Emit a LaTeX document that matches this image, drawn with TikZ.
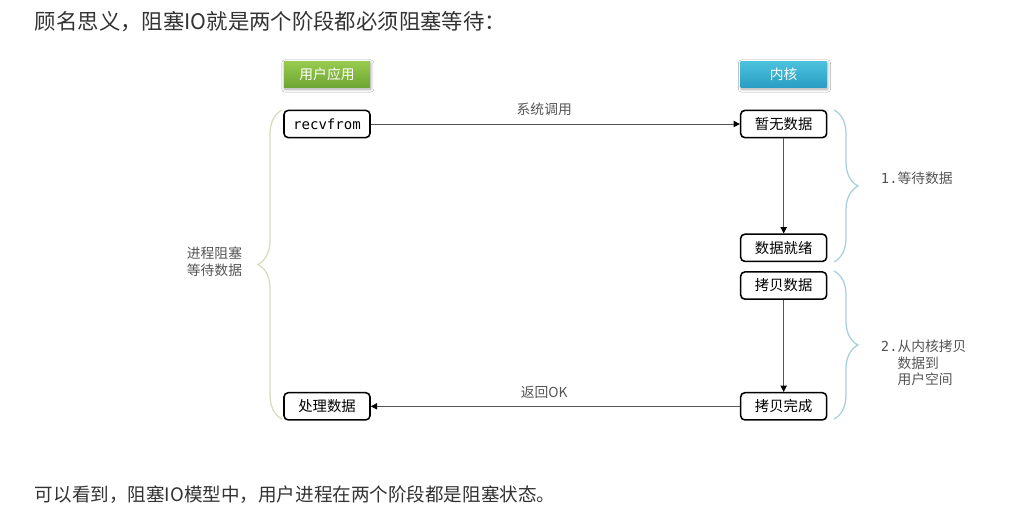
\documentclass[tikz,border=0pt]{standalone}
\usepackage{fontspec}
\setmainfont{Noto Sans CJK SC}
\newfontfamily\monofont{DejaVu Sans Mono}
\usetikzlibrary{arrows.meta, positioning, decorations.pathreplacing, shadows.blur}

\definecolor{textgray}{HTML}{333333}
\definecolor{labelgray}{HTML}{555555}
\definecolor{usergreenA}{HTML}{98CB4E}
\definecolor{usergreenB}{HTML}{6EA532}
\definecolor{kernelblueA}{HTML}{4CC2DE}
\definecolor{kernelblueB}{HTML}{2A9DC2}
\definecolor{braceblue}{HTML}{A6D0DB}
\definecolor{braceolive}{HTML}{D8DCBC}

\begin{document}
\begin{tikzpicture}[
        x=0.025cm, y=-0.025cm,
        node distance=9.225cm,
        block/.style={rectangle, draw=black, line width=1.1pt, fill=white, rounded corners=3pt, minimum width=2.15cm, minimum height=0.68cm, inner sep=0pt, font=\fontsize{10.2}{12}\selectfont},
        head/.style={rectangle, minimum width=2.15cm, minimum height=0.65cm, inner sep=0pt, text=white, font=\fontsize{9.8}{12}\selectfont, blur shadow={shadow xshift=0.6pt, shadow yshift=-1.2pt, shadow blur steps=6, shadow opacity=35}},
        line/.style={draw=labelgray, line width=0.7pt, -{Triangle[length=4.5pt, width=4.5pt, color=black]}},
        lbl/.style={font=\fontsize{9.8}{11.8}\selectfont, text=labelgray},
        curly/.style={decorate, decoration={brace, amplitude=0.6cm, aspect=0.5}, line width=0.9pt}
    ]
        \useasboundingbox[fill=white] (0,0) rectangle (1020,522);

        \node [anchor=west, text=textgray, font=\fontsize{15.2}{18}\selectfont] (title) at (30,22) {顾名思义，阻塞IO就是两个阶段都必须阻塞等待：};
        \node [anchor=west, text=textgray, font=\fontsize{13.2}{16}\selectfont] (summary) at (30,495) {可以看到，阻塞IO模型中，用户进程在两个阶段都是阻塞状态。};

        \node [block, font=\monofont\fontsize{10}{12}\selectfont] (recv) at (327,124) {recvfrom};
        \node [block, right=of recv] (nodata) {暂无数据};
        \node [block, below=2.375cm of nodata] (ready) {数据就绪};
        \node [block, below=0.225cm of ready] (copy) {拷贝数据};
        \node [block, below=2.3cm of copy] (copied) {拷贝完成};
        \node [block, left=of copied] (handle) {处理数据};

        \node [head, top color=usergreenA, bottom color=usergreenB, above=0.55cm of recv] (user) {用户应用};
        \node [head, top color=kernelblueA, bottom color=kernelblueB, above=0.55cm of nodata] (kernel) {内核};

        \draw[line] (recv) -- node[lbl, pos=0.47, above=2pt] {系统调用} (nodata);
        \draw[line] (nodata) -- (ready);
        \draw[line] (copy) -- (copied);
        \draw[line] (copied) -- node[lbl, pos=0.53, above=2pt] {返回OK} (handle);

        % braces
        \coordinate (waittop) at (834,110);
        \coordinate (waitbot) at (834,262);
        \coordinate (copytop) at (834,271);
        \coordinate (copybot) at (834,419);
        \coordinate (blocktop) at (282,110);
        \coordinate (blockbot) at (282,419);
        \draw[curly, draw=braceblue] (waittop) -- (waitbot);
        \draw[curly, draw=braceblue] (copytop) -- (copybot);
        \draw[curly, draw=braceolive] (blockbot) -- (blocktop);

        \node [lbl, anchor=west] (waitlbl) at (876,178) {{\monofont 1.}等待数据};
        \node [lbl, anchor=west, align=left] (copylbl) at (876,363) {{\monofont 2.}从内核拷贝\\{\monofont\phantom{2.}}数据到\\{\monofont\phantom{2.}}用户空间};
        \node [lbl, anchor=east, align=center] (blocklbl) at (247,262) {进程阻塞\\等待数据};
    \end{tikzpicture}
\end{document}
